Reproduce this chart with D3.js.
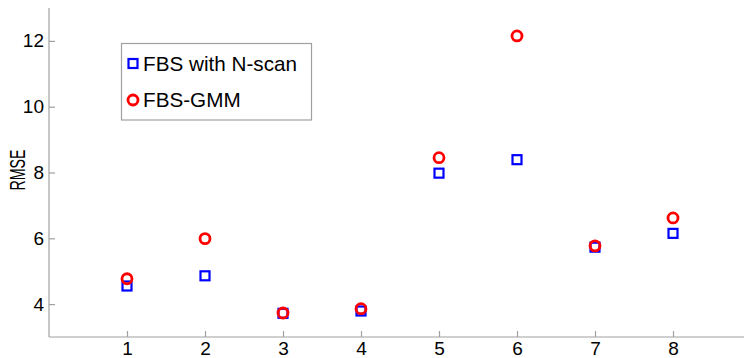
<!DOCTYPE html>
<html>
<head>
<meta charset="utf-8">
<script src="https://cdn.jsdelivr.net/npm/d3@7"></script>
<style>
    body { margin: 0; background: #fff; }
    text { font-family: "Liberation Sans", Arial, sans-serif; }
</style>
</head>
<body>
<svg id="rmse_plot" width="744" height="358"></svg>
<script>
// values
const positions   = [1, 2, 3, 4, 5, 6, 7, 8];
const nscanValues = [4.55, 4.86, 3.72, 3.79, 7.98, 8.39, 5.73, 6.15];
const gmmValues   = [4.77, 5.99, 3.73, 3.86, 8.45, 12.15, 5.77, 6.62];
const yTicks      = [4, 6, 8, 10, 12];
const seriesNames = ["FBS with N-scan", "FBS-GMM"];

const svg = d3.select("#rmse_plot");

const margin = { left: 49, top: 8, bottom: 337 };

// x runs 0..9, the figure is cut off on the right a bit
const x = d3.scaleLinear().domain([0, 9]).range([margin.left, 751]);
const y = d3.scaleLinear().domain([3, 13]).range([margin.bottom, margin.top]);

const axisColor = "#a0a0a0";

// axes
const xAxis = svg.append("g")
    .attr("transform", `translate(0,${margin.bottom})`)
    .call(d3.axisBottom(x).tickValues(positions).tickSize(-6).tickPadding(5).tickFormat(d3.format("d")));

const yAxis = svg.append("g")
    .attr("transform", `translate(${margin.left},0)`)
    .call(d3.axisLeft(y).tickValues(yTicks).tickSize(-6).tickPadding(5));

[xAxis, yAxis].forEach(ax => {
    ax.selectAll(".domain").attr("stroke", axisColor).attr("stroke-width", 1.2);
    ax.selectAll(".tick line").attr("stroke", axisColor).attr("stroke-width", 1.2);
    ax.selectAll(".tick text")
        .attr("fill", "#000")
        .style("font-size", "19px")
        .style("font-family", "'Liberation Sans', Arial, sans-serif");
});
// only plain left and bottom lines, no outer ticks
xAxis.select(".domain").attr("d", `M${margin.left},0H744`);
yAxis.select(".domain").attr("d", `M0,${margin.top}V${margin.bottom}`);

// the y label is drawn narrow in the reference
svg.append("text")
    .attr("transform", `translate(25,170) rotate(-90)`)
    .attr("text-anchor", "middle")
    .attr("textLength", 41)
    .attr("lengthAdjust", "spacingAndGlyphs")
    .style("font-size", "22px")
    .text("RMSE");

// markers
const sq = 9;
svg.selectAll(".nscan").data(positions)
    .enter().append("rect")
    .attr("class", "nscan")
    .attr("x", (d) => x(d) - sq / 2)
    .attr("y", (d, i) => y(nscanValues[i]) - sq / 2)
    .attr("width", sq)
    .attr("height", sq)
    .attr("fill", "none")
    .attr("stroke", "#0000ff")
    .attr("stroke-width", 2.2);

svg.selectAll(".gmm").data(positions)
    .enter().append("circle")
    .attr("class", "gmm")
    .attr("cx", (d) => x(d))
    .attr("cy", (d, i) => y(gmmValues[i]))
    .attr("r", 5)
    .attr("fill", "none")
    .attr("stroke", "#ff0000")
    .attr("stroke-width", 2.8);

// legend
const legend = svg.append("g");
legend.append("rect")
    .attr("x", 121.5).attr("y", 43.5)
    .attr("width", 190).attr("height", 76.5)
    .attr("fill", "#fff")
    .attr("stroke", axisColor)
    .attr("stroke-width", 1.2);

legend.append("rect")
    .attr("x", 133 - sq / 2).attr("y", 63.5 - sq / 2)
    .attr("width", sq).attr("height", sq)
    .attr("fill", "none").attr("stroke", "#0000ff").attr("stroke-width", 2.2);
legend.append("circle")
    .attr("cx", 133).attr("cy", 100)
    .attr("r", 5)
    .attr("fill", "none").attr("stroke", "#ff0000").attr("stroke-width", 2.8);

legend.selectAll(".legend_label").data(seriesNames)
    .enter().append("text")
    .attr("class", "legend_label")
    .attr("x", 143)
    .attr("y", (d, i) => 63.5 + i * 36.5)
    .attr("dy", "0.36em")
    .style("font-size", "20.7px")
    .text(d => d);
</script>
</body>
</html>
